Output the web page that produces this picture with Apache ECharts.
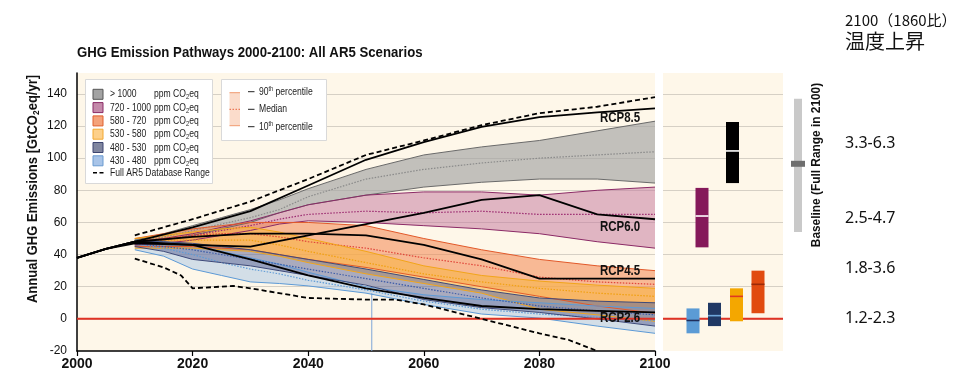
<!DOCTYPE html>
<html><head><meta charset="utf-8">
<script src="https://cdn.jsdelivr.net/npm/echarts@6/dist/echarts.min.js"></script>
<style>html,body{margin:0;padding:0;background:#fff}#c{width:960px;height:385px}</style>
</head><body><div id="c"></div>
<script>
// ---------- DATA ----------
const xTicks = [2000, 2020, 2040, 2060, 2080, 2100];
const yTicks = [-20, 0, 20, 40, 60, 80, 100, 120, 140];

const bandYears = [2010, 2015, 2020, 2025, 2030, 2035, 2040, 2050, 2060, 2070, 2080, 2090, 2100];
// > 1000 ppm
const g1000Hi  = [49, 53, 58, 63, 68, 74, 81, 93, 102, 107, 111, 117, 123];
const g1000Med = [48, 51, 55, 59, 63, 68, 76, 87, 93, 97, 100, 102, 104];
const g1000Lo  = [47, 49, 52, 56, 60, 66, 71, 77, 82, 85, 87, 87, 84.5];
// 720 - 1000 ppm
const p720Hi  = [48, 50, 53, 57, 61, 66, 71, 77, 79, 79, 77, 80, 82];
const p720Med = [47, 49, 52, 55, 58, 62, 65, 67, 66, 67, 65, 65, 65];
const p720Lo  = [46, 47, 49, 52, 55, 59, 61, 60, 58, 56, 53, 48, 44];
// 580 - 720 ppm
const o580Hi  = [50, 53, 56, 58, 60, 60, 60, 58, 50, 43, 37, 33, 30];
const o580Med = [48, 50, 52, 53, 53, 51, 48, 44, 38, 33, 26, 23, 21.5];
const o580Lo  = [45, 45, 45, 44, 43, 40, 37, 32, 26, 20, 14, 8, 3.5];
// 530 - 580 ppm
const y530Hi  = [50, 52, 54, 56, 57, 54, 50, 42, 33, 27, 23.5, 21, 19];
const y530Med = [48, 49, 49, 49, 49, 46, 42, 35, 28, 23, 19, 16, 14];
const y530Lo  = [44, 44, 44, 43, 42, 39, 35, 28, 22, 16, 6, 2.5, -1.5];
// 480 - 530 ppm
const n480Hi  = [48, 48, 47, 45, 43, 40, 37, 31, 24.5, 18, 13, 11, 10];
const n480Med = [47, 45, 43, 40, 37, 34, 31, 25, 19, 13, 8, 5, 2.5];
const n480Lo  = [45, 42, 37, 35, 33, 30, 27, 21, 12, 7, 4, 0, -4.5];
// 430 - 480 ppm
const b430Hi  = [49, 48, 46, 42, 38, 34, 29, 20, 15, 12, 10, 8, 6.5];
const b430Med = [47, 44, 40, 35, 31, 28, 24, 18, 11, 6, 3, 1, -1];
const b430Lo  = [43, 39, 31, 27, 23, 22, 20.5, 16, 9, 3, 0.5, -4.5, -9];
const b430SpikeYear = 2051;
const b430SpikeVals = [16, -20];

const rcpYears = [2000, 2005, 2010, 2020, 2030, 2040, 2050, 2060, 2070, 2080, 2090, 2100];
const rcp85 = [38, 43.5, 48, 57, 67, 83, 99, 110, 119.5, 125.5, 128.5, 131];
const rcp60 = [38, 43.5, 47, 46, 45, 52, 59, 66, 74, 77, 65, 62];
const rcp45 = [38, 43.5, 48, 51, 53, 53, 52, 46, 37, 25, 25, 25];
const rcp26 = [38, 43.5, 48, 46, 37, 27, 19, 13, 8, 6, 5, 4];

const fullHiYears = [2010, 2020, 2030, 2040, 2050, 2060, 2070, 2080, 2090, 2100];
const fullHi = [52, 62, 73, 87, 102, 111, 120.5, 128, 132, 138];
const fullLoYears = [2010, 2015, 2018, 2020, 2027, 2030, 2040, 2050, 2055, 2060, 2070, 2080, 2085, 2090];
const fullLo = [37.5, 32, 27, 19, 20.5, 19, 13, 12, 12, 9, 0, -9, -13, -20];

// 2100 ranges (right panel)
const rangeNames = ['430-480', '480-530', '530-580', '580-720', '720-1000', '>1000'];
const bar2100Low  = [-9, -4.5, -1.5, 3.5, 44.5, 84.5];
const bar2100High = [6.5, 10, 19, 30, 81.5, 122.5];
const bar2100Med  = [-1, 2, 14, 21.5, 64, 104.5];
const baselineLow = 54, baselineHigh = 137, baselineMed = 96.5;

const legendLabels = ['> 1000', '720 - 1000', '580 - 720', '530 - 580', '480 - 530', '430 - 480'];
const tempLabels = ['3.3-6.3', '2.5-4.7', '1.8-3.6', '1.2-2.3'];

// ---------- STYLE ----------
const SANS = "'Liberation Sans',Arial,sans-serif";
const CREAM = '#fef7e9';
const GRIDC = '#d6d0c5';
const barSlot = [30, 51.5, 73.5, 95, 39, 69.5];
const barFill = ['#5b9bd5', '#203864', '#f4a700', '#e14b10', '#85195a', '#000000'];
const barMedC = ['#1f2d5a', '#6fa8dc', '#e03a20', '#9a2a08', '#ffffff', '#ffffff'];

const chart = echarts.init(document.getElementById('c'), null, {renderer: 'canvas'});

function pairs(xs, ys) { return xs.map((x, i) => [x, ys[i]]); }
function lineS(data, color, width, type, z) {
  return {type: 'line', xAxisIndex: 0, yAxisIndex: 0, data: data, symbol: 'none',
    lineStyle: {color: color, width: width, type: type}, z: z, silent: true, clip: true};
}
function bandS(hi, lo, fill, z) {
  return {type: 'custom', xAxisIndex: 0, yAxisIndex: 0, data: [[2050, 50]], z: z, silent: true, clip: true,
    renderItem: function (params, api) {
      const pts = [];
      for (let i = 0; i < bandYears.length; i++) pts.push(api.coord([bandYears[i], hi[i]]));
      for (let i = bandYears.length - 1; i >= 0; i--) pts.push(api.coord([bandYears[i], lo[i]]));
      return {type: 'polygon', shape: {points: pts}, style: {fill: fill}};
    }};
}
const bands = [
  {hi: g1000Hi, med: g1000Med, lo: g1000Lo, fill: 'rgba(165,165,165,0.68)', edge: '#6a6a6a', medC: '#8a8a8a'},
  {hi: p720Hi, med: p720Med, lo: p720Lo, fill: 'rgba(196,120,160,0.52)', edge: '#8b2a66', medC: '#9b2a70'},
  {hi: o580Hi, med: o580Med, lo: o580Lo, fill: 'rgba(242,135,80,0.55)', edge: '#e2592a', medC: '#e0463a'},
  {hi: y530Hi, med: y530Med, lo: y530Lo, fill: 'rgba(248,180,70,0.6)', edge: '#f2a51a', medC: '#f0a010'},
  {hi: b430Hi, med: b430Med, lo: b430Lo, fill: 'rgba(160,190,228,0.45)', edge: '#5d9ad6', medC: '#5d9ad6'},
  {hi: n480Hi, med: n480Med, lo: n480Lo, fill: 'rgba(100,110,155,0.55)', edge: '#3e4a7a', medC: '#3a5aa8'}
];

const series = [];
// gridlines
series.push({type: 'line', xAxisIndex: 0, yAxisIndex: 0, data: [[2000, -20]], symbol: 'none', z: 0, silent: true,
  markLine: {z: 0, silent: true, symbol: 'none', label: {show: false}, animation: false,
    lineStyle: {color: GRIDC, type: 'solid', width: 1}, data: yTicks.slice(1).map(v => ({yAxis: v}))}});
series.push({type: 'line', xAxisIndex: 1, yAxisIndex: 1, data: [[0, -20]], symbol: 'none', z: 0, silent: true,
  markLine: {z: 0, silent: true, symbol: 'none', label: {show: false}, animation: false,
    lineStyle: {color: GRIDC, type: 'solid', width: 1}, data: yTicks.slice(1).map(v => ({yAxis: v}))}});

bands.forEach((b, k) => series.push(bandS(b.hi, b.lo, b.fill, 1 + k * 0.01)));
series.push(lineS([[b430SpikeYear, b430SpikeVals[0]], [b430SpikeYear, b430SpikeVals[1]]], '#7ea6d8', 1, 'solid', 2));
bands.forEach(b => {
  series.push(lineS(pairs(bandYears, b.hi), b.edge, 1, 'solid', 2));
  series.push(lineS(pairs(bandYears, b.lo), b.edge, 1, 'solid', 2));
  series.push(lineS(pairs(bandYears, b.med), b.medC, 1.2, [1.5, 1.5], 2));
});
// zero line
series.push(lineS([[2000, 0], [2100, 0]], '#e03224', 2, 'solid', 2.5));
series.push({type: 'line', xAxisIndex: 1, yAxisIndex: 1, data: [[0, 0], [120, 0]], symbol: 'none',
  lineStyle: {color: '#e03224', width: 2}, z: 2.5, silent: true});
// RCPs
[rcp85, rcp60, rcp45, rcp26].forEach(r => series.push(lineS(pairs(rcpYears, r), '#000', 1.8, 'solid', 3)));
series.push(lineS(pairs(fullHiYears, fullHi), '#000', 1.8, [5, 3], 3));
series.push(lineS(pairs(fullLoYears, fullLo), '#000', 1.8, [5, 3], 3));

// right panel bars
series.push({type: 'custom', xAxisIndex: 1, yAxisIndex: 1, z: 3, silent: true,
  data: rangeNames.map((n, i) => [barSlot[i], bar2100Low[i], bar2100High[i], bar2100Med[i], i]),
  renderItem: function (params, api) {
    const i = api.value(4);
    const x = api.value(0);
    const p1 = api.coord([x - 6.5, api.value(2)]);
    const p2 = api.coord([x + 6.5, api.value(1)]);
    const m = api.coord([x, api.value(3)]);
    return {type: 'group', children: [
      {type: 'rect', shape: {x: p1[0], y: p1[1], width: p2[0] - p1[0], height: p2[1] - p1[1]},
        style: {fill: barFill[i]}},
      {type: 'line', shape: {x1: p1[0], y1: m[1], x2: p2[0], y2: m[1]},
        style: {stroke: barMedC[i], lineWidth: 1.6}}
    ]};
  }});
// baseline bar
series.push({type: 'custom', xAxisIndex: 2, yAxisIndex: 2, z: 3, silent: true,
  data: [[12, baselineLow, baselineHigh, baselineMed]],
  renderItem: function (params, api) {
    const x = api.value(0);
    const p1 = api.coord([x - 4, api.value(2)]);
    const p2 = api.coord([x + 4, api.value(1)]);
    const m1 = api.coord([x - 7, api.value(3)]);
    const m2 = api.coord([x + 7, api.value(3)]);
    return {type: 'group', children: [
      {type: 'rect', shape: {x: p1[0], y: p1[1], width: p2[0] - p1[0], height: p2[1] - p1[1]}, style: {fill: '#c9c9c9'}},
      {type: 'rect', shape: {x: m1[0], y: m1[1] - 3, width: m2[0] - m1[0], height: 6}, style: {fill: '#6e6e6e'}}
    ]};
  }});

// ---------- GRAPHIC (legends, labels) ----------
const swFill = ['#a3a3a3', '#c48aaa', '#f4a27a', '#fdd08a', '#80869f', '#a8c4e8'];
const swStroke = ['#555555', '#8b2a66', '#e0602e', '#f2a830', '#3d4570', '#6a9bd0'];
const rich = {
  sub: {fontSize: 7.5, verticalAlign: 'bottom', padding: [6, 0, 0, 0], fontFamily: SANS, fill: '#222'},
  sup: {fontSize: 7, verticalAlign: 'top', padding: [0, 0, 5, 0], fontFamily: SANS, fill: '#222'}
};
const LF = '11px ' + SANS;
const LS = 0.78;
const g = [];
g.push({type: 'rect', z: 100, shape: {x: 85.5, y: 79.5, width: 127, height: 104},
  style: {fill: '#fff', stroke: '#d9d9d9', lineWidth: 1}});
legendLabels.forEach((t, i) => {
  const cy = 94.3 + i * 13.3;
  g.push({type: 'rect', z: 101, shape: {x: 93, y: cy - 5, width: 10, height: 10},
    style: {fill: swFill[i], stroke: swStroke[i], lineWidth: 1}});
  g.push({type: 'text', z: 101, x: 110, y: cy, scaleX: LS, style: {text: t, fill: '#222', font: LF, textVerticalAlign: 'middle'}});
  g.push({type: 'text', z: 101, x: 154, y: cy, scaleX: LS, style: {text: 'ppm CO{sub|2}eq', rich: rich, fill: '#222', font: LF, textVerticalAlign: 'middle'}});
});
g.push({type: 'line', z: 101, shape: {x1: 93, y1: 172.7, x2: 106, y2: 172.7}, style: {stroke: '#000', lineWidth: 1.6, lineDash: [4, 2.5]}});
g.push({type: 'text', z: 101, x: 110, y: 172.7, scaleX: LS, style: {text: 'Full AR5 Database Range', fill: '#222', font: LF, textVerticalAlign: 'middle'}});

g.push({type: 'rect', z: 100, shape: {x: 221.5, y: 79.5, width: 105, height: 61},
  style: {fill: '#fff', stroke: '#d9d9d9', lineWidth: 1}});
g.push({type: 'rect', z: 101, shape: {x: 229.5, y: 92.7, width: 10.5, height: 33}, style: {fill: '#fbdccb'}});
g.push({type: 'line', z: 101, shape: {x1: 229.5, y1: 92.7, x2: 240, y2: 92.7}, style: {stroke: '#f09a70', lineWidth: 1}});
g.push({type: 'line', z: 101, shape: {x1: 229.5, y1: 125.7, x2: 240, y2: 125.7}, style: {stroke: '#f09a70', lineWidth: 1}});
g.push({type: 'line', z: 101, shape: {x1: 229.5, y1: 109.3, x2: 240, y2: 109.3}, style: {stroke: '#e8603a', lineWidth: 1, lineDash: [1.5, 1.5]}});
[[91.7, '90{sup|th} percentile'], [109.3, 'Median'], [126.7, '10{sup|th} percentile']].forEach(r => {
  g.push({type: 'line', z: 101, shape: {x1: 248, y1: r[0], x2: 254.5, y2: r[0]}, style: {stroke: '#222', lineWidth: 1}});
  g.push({type: 'text', z: 101, x: 259, y: r[0], scaleX: LS, style: {text: r[1], rich: rich, fill: '#222', font: LF, textVerticalAlign: 'middle'}});
});

// title and axis name
g.push({type: 'text', z: 100, x: 77, y: 53, scaleX: 0.88, style: {text: 'GHG Emission Pathways 2000-2100: All AR5 Scenarios', fill: '#111', font: 'bold 15px ' + SANS, textVerticalAlign: 'middle'}});
g.push({type: 'text', z: 100, x: 33, y: 189, rotation: Math.PI / 2, scaleX: 0.93,
  style: {text: 'Annual GHG Emissions [GtCO{s|2}eq/yr]', fill: '#111', font: 'bold 14px ' + SANS, textAlign: 'center', textVerticalAlign: 'middle',
    rich: {s: {fontSize: 9, fontWeight: 'bold', fontFamily: SANS, verticalAlign: 'bottom', padding: [7, 0, 0, 0]}}}});
// RCP labels
[['RCP8.5', 118], ['RCP6.0', 227], ['RCP4.5', 271.5], ['RCP2.6', 318]].forEach(r => {
  g.push({type: 'text', z: 100, x: 600, y: r[1], scaleX: 0.82, style: {text: r[0], fill: '#111', font: 'bold 14px ' + SANS, textVerticalAlign: 'middle'}});
});
g.push({type: 'text', z: 100, x: 817, y: 165, rotation: Math.PI / 2, scaleX: 0.95,
  style: {text: 'Baseline (Full Range in 2100)', fill: '#111', font: 'bold 12.5px ' + SANS, textAlign: 'center', textVerticalAlign: 'middle'}});
[[143], [218], [268], [318]].forEach((r, i) => {
  g.push({type: 'text', z: 100, x: 845, y: r[0], style: {text: tempLabels[i], fill: '#111', font: '16px "Noto Sans",sans-serif', textVerticalAlign: 'middle'}});
});
g.push({type: 'text', z: 100, x: 845, y: 20, style: {text: '2100（1860比）', fill: '#111', font: '15px "Noto Sans CJK JP",sans-serif', textVerticalAlign: 'middle'}});
g.push({type: 'text', z: 100, x: 845, y: 41, style: {text: '温度上昇', fill: '#111', font: '20px "Noto Sans CJK JP",sans-serif', textVerticalAlign: 'middle'}});

const option = {
  animation: false,
  backgroundColor: '#ffffff',
  grid: [
    {left: 77, top: 73, width: 578, height: 278, show: true, backgroundColor: CREAM, borderWidth: 0},
    {left: 663, top: 73, width: 120, height: 278, show: true, backgroundColor: CREAM, borderWidth: 0},
    {left: 786, top: 73, width: 24, height: 278, show: false}
  ],
  xAxis: [
    {type: 'value', gridIndex: 0, min: xTicks[0], max: xTicks[xTicks.length - 1], interval: 20,
      axisLine: {onZero: false, lineStyle: {color: '#000', width: 1.5}}, axisTick: {show: true, length: 5, lineStyle: {color: '#000', width: 1.2}},
      axisLabel: {color: '#111', fontWeight: 'bold', fontSize: 14, fontFamily: SANS, margin: 6, formatter: v => String(v)}, splitLine: {show: false}},
    {type: 'value', gridIndex: 1, min: 0, max: 120, show: false},
    {type: 'value', gridIndex: 2, min: 0, max: 24, show: false}
  ],
  yAxis: [
    {type: 'value', gridIndex: 0, min: yTicks[0], max: 153, interval: 20,
      axisLine: {show: true, onZero: false, lineStyle: {color: '#000', width: 1.5}}, axisTick: {show: false},
      axisLabel: {color: '#111', fontSize: 12, fontFamily: SANS, margin: 10, showMaxLabel: false,
        formatter: v => (v % 20 === 0 ? String(v) : '')}, splitLine: {show: false}},
    {type: 'value', gridIndex: 1, min: yTicks[0], max: 153, show: false, splitLine: {show: false}},
    {type: 'value', gridIndex: 2, min: yTicks[0], max: 153, show: false, splitLine: {show: false}}
  ],
  series: series,
  graphic: g
};
chart.setOption(option);
</script></body></html>
